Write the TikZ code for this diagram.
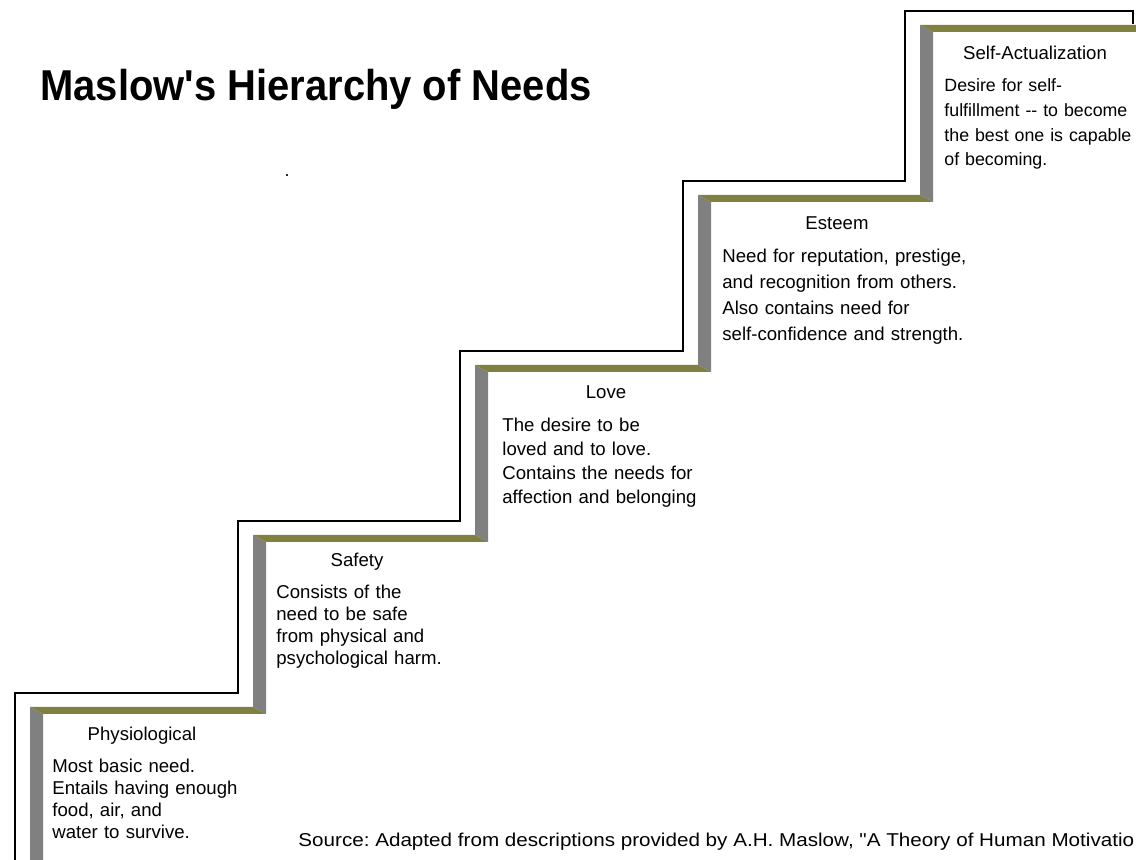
\documentclass[tikz,border=0pt]{standalone}
\usepackage{fontspec}
\setmainfont{Liberation Sans}[Ligatures=TeXOff]
\newfontfamily\titlefont{Liberation Sans}[FakeStretch=0.925, Ligatures=TeXOff]
\newfontfamily\sourcefont{Liberation Sans}[FakeStretch=1.11, Ligatures=TeXOff]
\definecolor{treadolive}{RGB}{128,128,64}
\definecolor{risergray}{RGB}{128,128,128}
\tikzset{
  tread/.style={fill=treadolive},
  riser/.style={fill=risergray},
  outline/.style={draw=black, line width=1pt},
  head/.style={anchor=base, inner sep=0pt, font=\fontsize{9.3}{11.5}\selectfont},
  body/.style={anchor=base west, inner sep=0pt, text width=135pt, align=left,
    font=\fontsize{9.3}{#1}\selectfont},
}
\frenchspacing
\begin{document}
\begin{tikzpicture}[x=0.5pt, y=-0.5pt]
    \useasboundingbox (0,0) rectangle (1136,860);
    \clip (0,0) rectangle (1136,860);

    % outline behind the stairs
    \draw[outline] (15,870) -- (15,693) -- (238,693) -- (238,521) -- (460,521)
      -- (460,351) -- (683,351) -- (683,181) -- (905,181) -- (905,11) -- (1133,11) -- (1133,24);

    % risers
    \fill[riser] (30,707) -- (43,714) -- (43,870) -- (30,870) -- cycle;
    \fill[riser] (253,535) -- (266,542) -- (266,714) -- (253,707) -- cycle;
    \fill[riser] (475,365) -- (488,372) -- (488,542) -- (475,535) -- cycle;
    \fill[riser] (698,195) -- (711,202) -- (711,372) -- (698,365) -- cycle;
    \fill[riser] (920,25) -- (933,32) -- (933,202) -- (920,195) -- cycle;

    % treads
    \fill[tread] (30,707) -- (253,707) -- (266,714) -- (43,714) -- cycle;
    \fill[tread] (253,535) -- (475,535) -- (488,542) -- (266,542) -- cycle;
    \fill[tread] (475,365) -- (698,365) -- (711,372) -- (488,372) -- cycle;
    \fill[tread] (698,195) -- (920,195) -- (933,202) -- (711,202) -- cycle;
    \fill[tread] (920,25) -- (1150,25) -- (1150,32) -- (933,32) -- cycle;

    \node[anchor=base west, inner sep=0pt, font=\titlefont\fontsize{21.6}{26}\selectfont\bfseries]
      (title) at (40,101) {Maslow's Hierarchy of Needs};
    \node[anchor=base, inner sep=0pt, font=\fontsize{9}{11}\selectfont] (dot) at (287,177) {.};

    \node[head] (physio) at (142,741) {Physiological};
    \node[body=11pt] (physioText) at (52,773)
      {Most basic need.\\ Entails having enough\\ food, air, and\\ water to survive.};

    \node[head] (safety) at (357,567) {Safety};
    \node[body=11pt] (safetyText) at (276,599)
      {Consists of the\\ need to be safe\\ from physical and\\ psychological harm.};

    \node[head] (love) at (606,399) {Love};
    \node[body=12pt] (loveText) at (502,432)
      {The desire to be\\ loved and to love.\\ Contains the needs for\\ affection and belonging};

    \node[head] (esteem) at (837,230) {Esteem};
    \node[body=13pt] (esteemText) at (722,263)
      {Need for reputation, prestige,\\ and recognition from others.\\ Also contains need for\\ self-confidence and strength.};

    \node[head] (selfact) at (1035,60) {Self-Actualization};
    \node[body=12.3pt, font=\fontsize{8.9}{12.3}\selectfont] (selfactText) at (944,92)
      {Desire for self-\\ fulfillment -- to become\\ the best one is capable\\ of becoming.};

    \node[anchor=base west, inner sep=0pt, font=\sourcefont\fontsize{9.3}{11}\selectfont] (source) at (298,847)
      {Source: Adapted from descriptions provided by A.H. Maslow, "A Theory of Human Motivatio};
\end{tikzpicture}
\end{document}
